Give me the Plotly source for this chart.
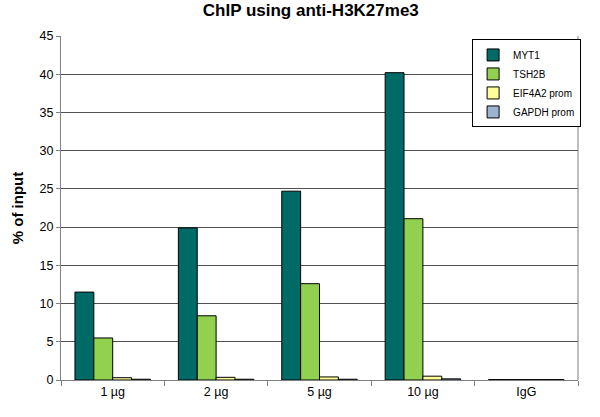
import plotly.graph_objects as go

categories = ["1 µg", "2 µg", "5 µg", "10 µg", "IgG"]
myt1 = [11.5, 19.9, 24.7, 40.2, 0.05]
tsh2b = [5.5, 8.4, 12.6, 21.1, 0.05]
eif4a2 = [0.3, 0.35, 0.4, 0.5, 0.05]
gapdh = [0.1, 0.1, 0.1, 0.15, 0.05]

series = [
    ("MYT1", myt1, "#006A66"),
    ("TSH2B", tsh2b, "#92D050"),
    ("EIF4A2 prom", eif4a2, "#FFFF99"),
    ("GAPDH prom", gapdh, "#9DB4D0"),
]

fig = go.Figure()
for name, vals, col in series:
    fig.add_trace(go.Bar(
        x=categories, y=vals, name=name,
        marker=dict(color=col, line=dict(color="black", width=1)),
    ))

fig.update_layout(
    width=600, height=417,
    margin=dict(l=61, r=22, t=36, b=37, autoexpand=False),
    paper_bgcolor="white", plot_bgcolor="white",
    barmode="group", bargap=0.27, bargroupgap=0,
    font=dict(family="Liberation Sans, Arial", size=12.5, color="black"),
    title=dict(text="<b>ChIP using anti-H3K27me3</b>", x=0.518, xanchor="center",
               y=0.99, yanchor="top", font=dict(size=17)),
    showlegend=True,
    legend=dict(x=1.006, y=0.99, xanchor="right", yanchor="top",
                bgcolor="white", bordercolor="black", borderwidth=1,
                font=dict(size=10), itemwidth=30),
    xaxis=dict(showline=True, linecolor="#808080", linewidth=1,
               ticks="outside", tickson="boundaries", ticklen=5, tickcolor="#808080",
               automargin=False),
    yaxis=dict(range=[0, 45], dtick=5, showline=True, linecolor="#808080",
               linewidth=1, ticks="outside", ticklen=4, tickcolor="#808080",
               showgrid=True, gridcolor="#505050", gridwidth=1, automargin=False,
               title=dict(text="<b>% of input</b>", font=dict(size=15), standoff=12)),
)
fig.add_shape(type="line", xref="paper", yref="paper", x0=1, x1=1, y0=0, y1=1,
              line=dict(color="#808080", width=1))

fig.write_html("out.html", config={"displayModeBar": False},
               post_script="document.body.style.margin='0';")
